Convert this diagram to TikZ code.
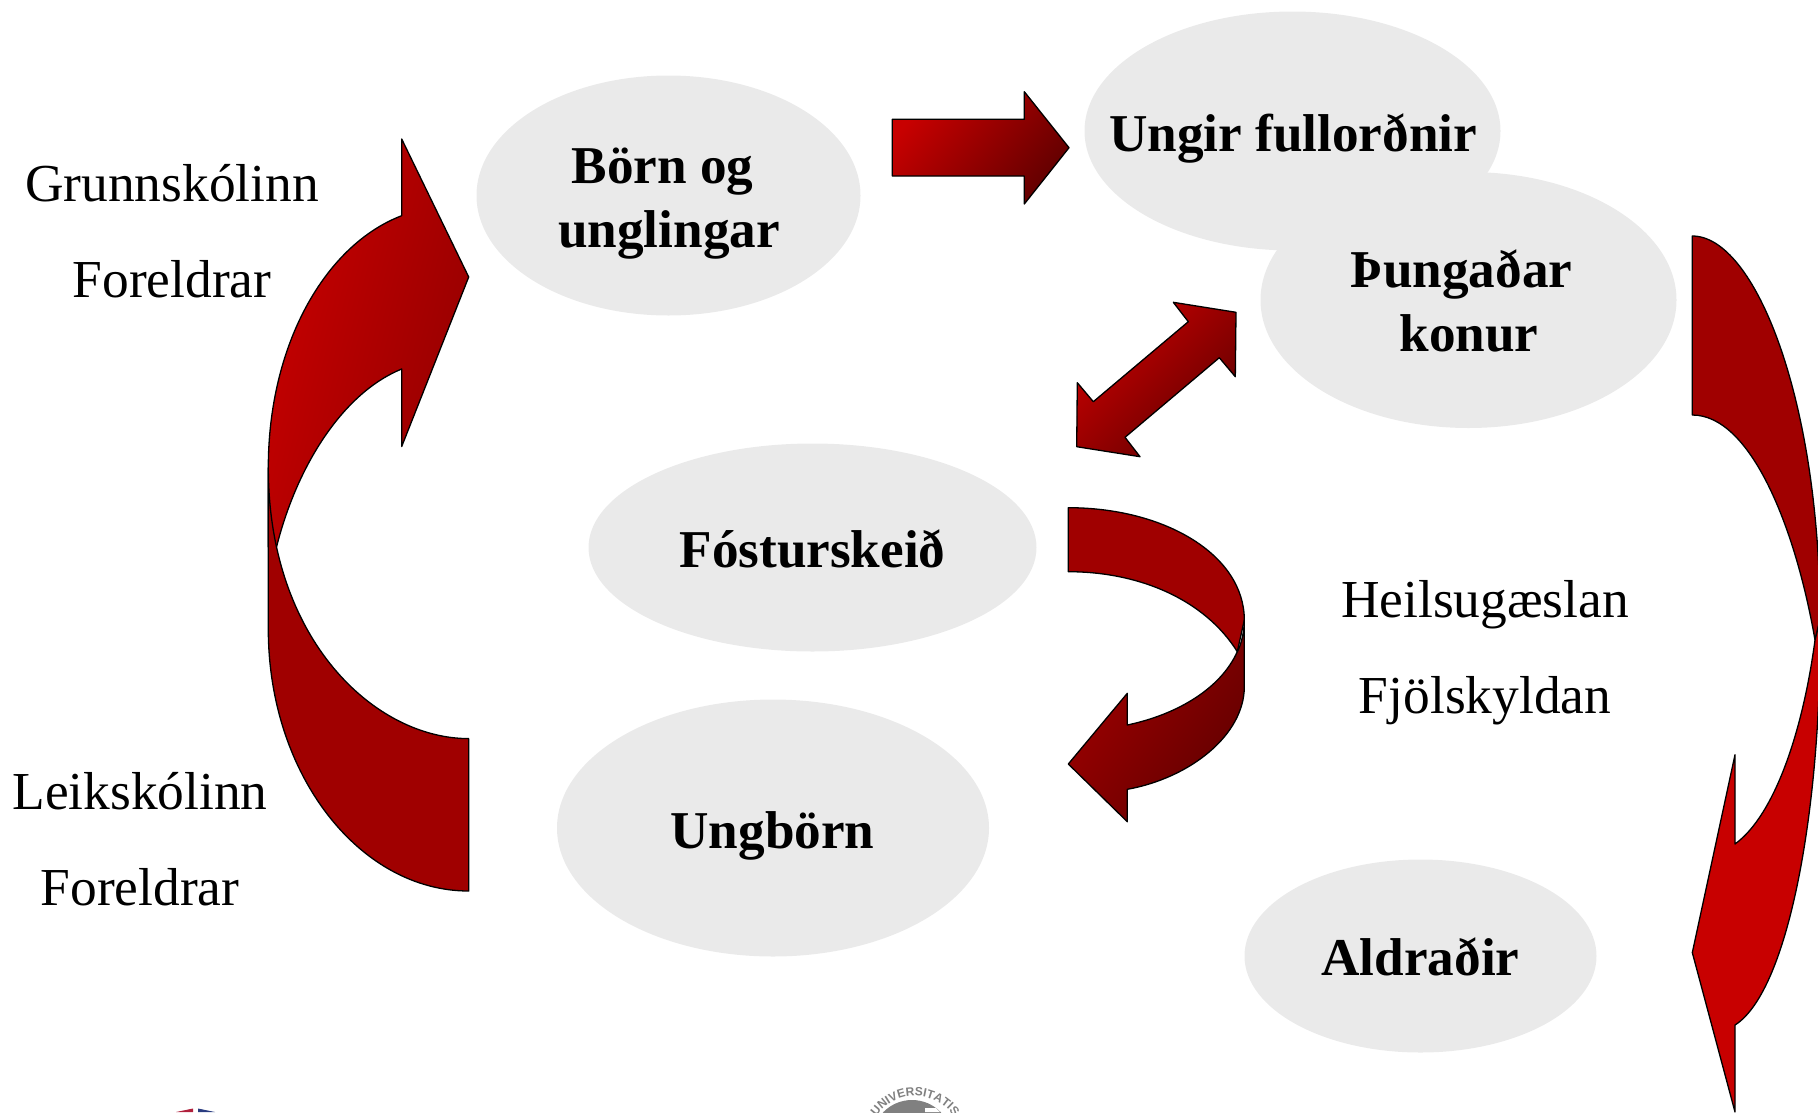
\documentclass[tikz,border=0pt]{standalone}
\usepackage{fontspec}
\setmainfont{Liberation Serif}
\setsansfont{Liberation Sans}
\usetikzlibrary{decorations.text}
\definecolor{ovalgrey}{HTML}{EAEAEA}
\definecolor{backred}{HTML}{A00000}
\definecolor{brightred}{HTML}{C80000}
\definecolor{midred}{HTML}{940000}
\definecolor{darkred}{HTML}{620000}
\definecolor{sealgrey}{HTML}{808080}
\definecolor{logored}{HTML}{B0203C}
\definecolor{logoblue}{HTML}{2A3C80}
\tikzset{
  oval/.style={fill=ovalgrey,draw=none},
  plainlabel/.style={anchor=base,inner sep=0pt,font=\fontsize{53.4}{54}\selectfont,text=black},
  boldlabel/.style={anchor=base,inner sep=0pt,font=\fontsize{53.2}{54}\selectfont\bfseries,text=black},
  band/.style={draw=black,line width=1.3pt,line join=round},
  backface/.style={band,fill=backred},
  flatface/.style={band,fill=brightred},
  gradstraight/.style={band,left color=brightred,right color=darkred,shading angle=50},
  gradleft/.style={band,left color=brightred,right color=midred,shading angle=75},
  gradcurl/.style={band,left color=backred,right color=darkred,shading angle=55},
  graddouble/.style={band,left color=brightred,right color=darkred,shading angle=45}
}
\begin{document}
\begin{tikzpicture}[x=1pt,y=-1pt]
\path[use as bounding box] (0,0) rectangle (1818,1112);
\clip (0,0) rectangle (1818,1112);
% ovals
\fill[oval] (1292.5,131) ellipse [x radius=208,y radius=119.5];
\fill[oval] (1468.5,300) ellipse [x radius=208,y radius=128];
\fill[oval] (668.5,195.5) ellipse [x radius=192,y radius=120];
\fill[oval] (812.5,547.5) ellipse [x radius=224,y radius=104];
\fill[oval] (773,828) ellipse [x radius=216,y radius=128.5];
\fill[oval] (1420.5,956) ellipse [x radius=176,y radius=96.5];
% straight arrow
\draw[gradstraight] (892.3,119.3) -- (1024.3,119.3) -- (1024.3,91.7) -- (1069,147.7)
  -- (1024.3,204) -- (1024.3,176) -- (892.3,176) -- cycle;
% double arrow
\draw[graddouble] (1173.3,302.3) -- (1236,312.3) -- (1235.3,376.7) -- (1219.3,357.7)
  -- (1125,437.3) -- (1140,456.7) -- (1076.7,446.7) -- (1077.3,382.7) -- (1093.3,401.7)
  -- (1188.3,321.7) -- cycle;
% left arrow: front then back
\draw[gradleft] (401.7,215.7) -- (401.7,139) -- (468.7,277) -- (401.7,446.5) -- (401.7,369)
  .. controls (345,392) and (298,462) .. (276.5,547)
  -- (268.3,547) -- (268.3,467.6)
  .. controls (268.3,345) and (325,245) .. (401.7,215.7) -- cycle;
\draw[backface] (268.3,467.6) -- (268.3,629)
  .. controls (268.3,775) and (360,891) .. (468.7,891)
  -- (468.7,738.6)
  .. controls (375,738.6) and (268.3,640) .. (268.3,467.6) -- cycle;
% curl arrow: back then front
\draw[backface] (1068.3,507.7)
  .. controls (1165,507.7) and (1244.3,555) .. (1244.3,620)
  -- (1237.3,651.7)
  .. controls (1205,600) and (1140,571.7) .. (1068.3,571.7) -- cycle;
\draw[gradcurl] (1244.3,620) -- (1244.3,686.7)
  .. controls (1244.3,735) and (1190,778) .. (1127.3,789.3)
  -- (1127.3,821.7) -- (1068.3,764) -- (1127.3,693.3) -- (1127.3,725)
  .. controls (1175,715) and (1220,690) .. (1237.3,651.7)
  .. controls (1241,645) and (1244.3,632) .. (1244.3,620) -- cycle;
% right arrow: back then front
\draw[backface] (1692.3,236)
  .. controls (1755,236) and (1820,400) .. (1820,620)
  -- (1815,640)
  .. controls (1795,525) and (1750,415) .. (1692.3,415) -- cycle;
\draw[flatface] (1815,640)
  .. controls (1803,730) and (1775,815) .. (1735,844)
  -- (1735,754.7) -- (1692.3,952.6) -- (1735,1112) -- (1735,1025)
  .. controls (1790,990) and (1822,800) .. (1820,620) -- cycle;
% ends of two cropped logos
\fill[logored] (176,1112) -- (193,1108.5) -- (193,1112) -- cycle;
\fill[logoblue] (198,1108.5) -- (215,1112) -- (198,1112) -- cycle;
\fill[sealgrey] (912,1140) circle [radius=40];
\fill[white] (925,1108) -- (936,1108) -- (940,1112) -- (925,1112) -- cycle;
\path[decorate,decoration={text along path,text align=center,
  text={|\sffamily\bfseries\fontsize{12}{12}\selectfont\color{sealgrey}|UNIVERSITATIS}}]
  (868,1143) arc [start angle=180,end angle=360,radius=47];
% labels
\node[plainlabel] (grunn) at (172,201) {Grunnskólinn};
\node[plainlabel] (forA) at (172,297) {Foreldrar};
\node[plainlabel] (leik) at (140,809) {Leikskólinn};
\node[plainlabel] (forB) at (140,905) {Foreldrar};
\node[plainlabel] (heilsa) at (1485,617) {Heilsugæslan};
\node[plainlabel] (fjol) at (1485,713) {Fjölskyldan};
\node[boldlabel] (born) at (662.5,183.5) {Börn og};
\node[boldlabel] (ungl) at (669,247) {unglingar};
\node[boldlabel] (ungir) at (1293,151) {Ungir fullorðnir};
\node[boldlabel] (thung) at (1461.5,287) {Þungaðar};
\node[boldlabel] (konur) at (1469,351) {konur};
\node[boldlabel] (fost) at (812.5,567) {Fósturskeið};
\node[boldlabel] (ungb) at (772.5,848) {Ungbörn};
\node[boldlabel] (aldr) at (1420.5,975) {Aldraðir};
\end{tikzpicture}
\end{document}
